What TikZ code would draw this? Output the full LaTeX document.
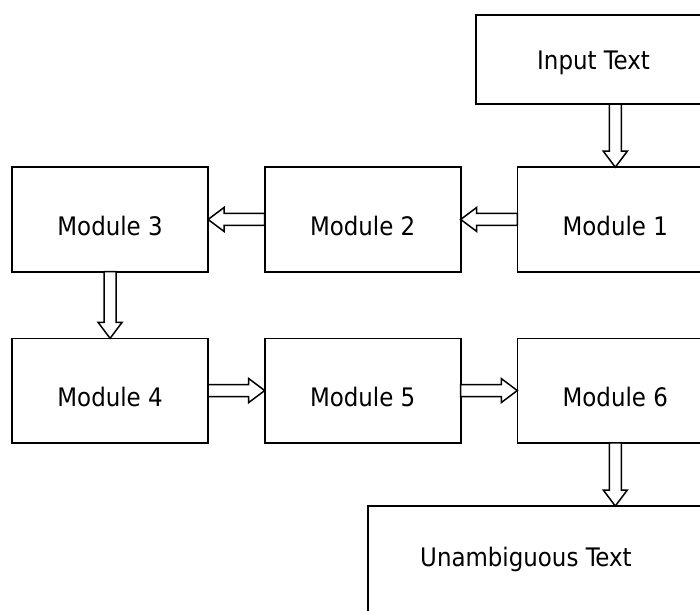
\documentclass[tikz,border=0pt]{standalone}
\usepackage{fontspec}
\setmainfont{DejaVu Sans Condensed}
\usepackage{tikz}
\usetikzlibrary{matrix,calc}
\newcommand*\boxwd{196pt}
\newcommand*\boxht{104.5pt}
\tikzset{
    textfont/.style = {font=\fontsize{25.5}{30}\selectfont},
    cell/.style     = {draw, line width=1.6pt, textfont,
                      minimum width=\boxwd, minimum height=\boxht,
                      inner sep=0pt, outer sep=0pt,
                      text height=32pt, text depth=0pt},
    iobox/.style    = {cell, text height=19pt},
    blockarrow/.style = {draw, line width=1.5pt, fill=white, line join=miter,
        to path={
            coordinate (ba) at ($(\tikztotarget)!16pt!(\tikztostart)$)
            ($(\tikztostart)!6pt!90:(\tikztotarget)$)
            -- ($(ba)!6pt!90:(\tikztotarget)$)
            -- ($(ba)!12pt!90:(\tikztotarget)$)
            -- (\tikztotarget)
            -- ($(ba)!12pt!-90:(\tikztotarget)$)
            -- ($(ba)!6pt!-90:(\tikztotarget)$)
            -- ($(\tikztostart)!6pt!-90:(\tikztotarget)$)
            -- cycle}},
    modmatrix/.style = {
        matrix of nodes,
        nodes = {cell},
        column sep=55pt, row sep=65pt,
    },
  }
\begin{document}
\begin{tikzpicture}[x=1pt,y=-1pt]
        \useasboundingbox (0,0) rectangle (700,610);
        \clip (0,0) rectangle (700,610);

        % Input box on top
        \node (in) [iobox, minimum width=235pt, minimum height=89pt] at (593.5,59.5) {Input Text};

        % the six modules, first row runs right to left
        \matrix (M) [modmatrix] at (362.7,305) {
            Module 3 & Module 2 & Module 1 \\
            Module 4 & Module 5 & Module 6 \\
        };

        % Output box, cut by the page edge
        \node (out) [cell, anchor=north west, minimum width=360pt, minimum height=120pt] at (368,506) {};
        \node (outtext) [textfont, anchor=base west, inner sep=0pt] at (420,566) {Unambiguous Text};

        % free ends of the vertical arrows
        \coordinate (intop) at (in.south -| M-1-3.north);
        \coordinate (outtop) at (out.north -| M-2-3.south);

        % block arrows between the boxes
        \draw[blockarrow] (intop) to (M-1-3.north);
        \draw[blockarrow] (M-1-3.west) to (M-1-2.east);
        \draw[blockarrow] (M-1-2.west) to (M-1-1.east);
        \draw[blockarrow] (M-1-1.south) to (M-2-1.north);
        \draw[blockarrow] (M-2-1.east) to (M-2-2.west);
        \draw[blockarrow] (M-2-2.east) to (M-2-3.west);
        \draw[blockarrow] (M-2-3.south) to (outtop);
    \end{tikzpicture}
\end{document}
